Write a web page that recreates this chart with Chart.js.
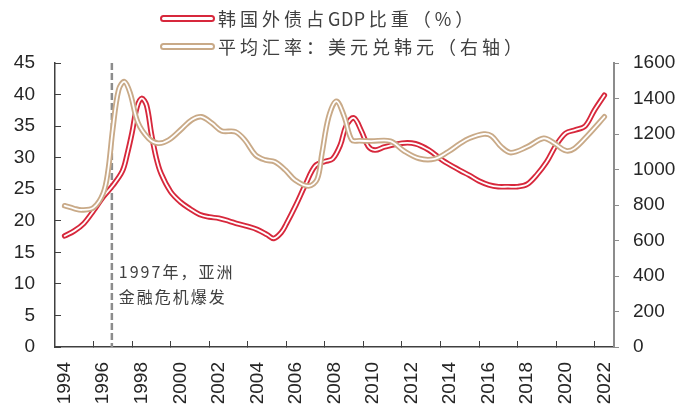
<!DOCTYPE html>
<html>
<head>
    <title>韩国外债占GDP比重与汇率</title>
    <style>
        body { margin: 0; background: #ffffff; font-family: "Liberation Sans", Arial, sans-serif; }
        .wrap { position: relative; width: 682px; height: 410px; }
        .legend { position: absolute; left: 160px; top: 4px; font-family: "Noto Sans CJK SC", sans-serif; font-size: 18px; letter-spacing: 4px; color: #404040; }
        .legend div { display: flex; align-items: center; height: 28px; }
        .legend .latin { letter-spacing: 0.5px; margin-right: 3px; }
        .swatch { width: 51px; height: 3px; border: 2px solid; border-radius: 4px; background: #fff; margin-right: 3px; }
    </style>
</head>
<body>
<div class="wrap">
    <canvas id="chart" width="682" height="410"></canvas>
    <div class="legend">
        <div><span class="swatch" style="border-color:#d7283c"></span>韩国外债占<span class="latin">GDP</span>比重（%）</div>
        <div><span class="swatch" style="border-color:#c9aa88"></span>平均汇率：美元兑韩元（右轴）</div>
    </div>
</div>
<script src="https://cdn.jsdelivr.net/npm/chart.js"></script>
<script>
    // values (x = year)
    var debtYears = [1994.0, 1994.5, 1995.0, 1995.5, 1996.0, 1996.5, 1997.0, 1997.25, 1997.5, 1997.75, 1998.0, 1998.25,
        1998.5, 1998.75, 1999.0, 1999.5, 2000.0, 2000.5, 2001.0, 2001.5, 2002.0, 2002.5, 2003.0, 2003.5, 2004.0,
        2004.5, 2004.85, 2005.25, 2005.5, 2006.0, 2006.5, 2007.0, 2007.5, 2007.9, 2008.3, 2008.6, 2009.0, 2009.4,
        2009.75, 2010.1, 2010.6, 2011.5, 2012.2, 2012.9, 2013.6, 2014.5, 2015.0, 2015.5, 2016.0, 2016.5, 2017.0,
        2017.5, 2018.0, 2018.5, 2019.0, 2019.5, 2020.0, 2020.5, 2021.0, 2021.5, 2022.0];
    var debtRatio = [17.6, 18.4, 19.6, 21.6, 23.8, 25.6, 27.9, 30.6, 34.0, 38.0, 39.4, 38.3,
        33.8, 30.0, 27.5, 24.6, 23.0, 21.9, 21.0, 20.6, 20.4, 20.0, 19.5, 19.1, 18.6,
        17.8, 17.2, 18.2, 19.5, 22.5, 25.8, 28.7, 29.4, 29.8, 32.0, 35.0, 36.3, 34.2,
        31.8, 31.2, 31.7, 32.3, 32.2, 31.2, 29.6, 28.0, 27.2, 26.3, 25.7, 25.4, 25.4,
        25.4, 25.8, 27.3, 29.3, 32.0, 33.9, 34.4, 35.0, 37.6, 39.9];

    var rateYears = [1994.0, 1994.5, 1994.9, 1995.5, 1996.0, 1996.25, 1996.5, 1996.8, 1997.1, 1997.4, 1997.8, 1998.35,
        1998.85, 1999.4, 2000.1, 2000.6, 2001.1, 2001.65, 2002.15, 2002.85, 2003.35, 2003.9, 2004.4, 2004.9,
        2005.45, 2005.95, 2006.65, 2007.1, 2007.35, 2007.7, 2008.1, 2008.5, 2008.9, 2009.3, 2009.9, 2010.9,
        2011.6, 2012.4, 2013.2, 2013.9, 2014.5, 2015.0, 2015.75, 2016.15, 2016.65, 2017.15, 2018.0, 2018.85,
        2019.4, 2020.0, 2020.45, 2021.15, 2022.0];
    var krwRate = [796, 780, 772, 785, 866, 990, 1230, 1448, 1495, 1430, 1265, 1176,
        1148, 1166, 1232, 1280, 1297, 1260, 1217, 1213, 1166, 1082, 1054, 1044,
        997, 941, 907, 945, 1091, 1297, 1385, 1300, 1166, 1162, 1160, 1160,
        1105, 1062, 1060, 1100, 1145, 1176, 1200, 1189, 1128, 1095, 1128, 1176,
        1148, 1106, 1119, 1194, 1297];

    var labelYears = [1994, 1996, 1998, 2000, 2002, 2004, 2006, 2008, 2010, 2012, 2014, 2016, 2018, 2020, 2022];
    var crisisYear = 1996.45;
    var crisisNote = ['1997年，亚洲', '金融危机爆发'];
    var noteLevels = [11.9, 7.9];

    var red = '#d7283c';
    var tan = '#c9aa88';

    function pts(xs, ys) {
        return xs.map((x, i) => ({ x: x, y: ys[i] }));
    }

    function line(data, color, width, axis, order) {
        return {
            data: data, yAxisID: axis, order: order,
            borderColor: color, borderWidth: width,
            pointRadius: 0, tension: 0.35,
            borderCapStyle: 'round', borderJoinStyle: 'round', fill: false
        };
    }

    var crisisLine = {
        id: 'crisisLine',
        beforeDatasetsDraw(chart) {
            let ctx = chart.ctx;
            let x = chart.scales.x.getPixelForValue(crisisYear);
            let area = chart.chartArea;
            ctx.save();
            ctx.strokeStyle = '#8c8c8c';
            ctx.lineWidth = 2.5;
            ctx.setLineDash([7, 3]);
            ctx.beginPath();
            ctx.moveTo(x, area.top);
            ctx.lineTo(x, area.bottom);
            ctx.stroke();
            ctx.setLineDash([]);
            ctx.fillStyle = '#404040';
            ctx.font = '16px "Noto Sans CJK SC"';
            ctx.letterSpacing = '2px';
            ctx.textBaseline = 'middle';
            crisisNote.forEach((t, i) => {
                ctx.fillText(t, x + 7, chart.scales.y.getPixelForValue(noteLevels[i]));
            });
            ctx.restore();
        }
    };

    var xTicks = [];
    labelYears.forEach(y => { xTicks.push(y); if (y < 2022) xTicks.push(y + 1.5); });

    new Chart(document.getElementById('chart'), {
        type: 'line',
        data: {
            datasets: [
                line(pts(rateYears, krwRate), '#ffffff', 1.8, 'y1', 0),
                line(pts(rateYears, krwRate), tan, 5.5, 'y1', 1),
                line(pts(debtYears, debtRatio), '#ffffff', 1.8, 'y', 2),
                line(pts(debtYears, debtRatio), red, 5.5, 'y', 3)
            ]
        },
        plugins: [crisisLine],
        options: {
            responsive: false,
            animation: false,
            layout: { padding: { top: 63, left: 0, right: 0, bottom: 0 } },
            plugins: { legend: { display: false }, tooltip: { enabled: false } },
            scales: {
                x: {
                    type: 'linear', min: 1993.5, max: 2022.5,
                    afterBuildTicks: s => { s.ticks = xTicks.map(v => ({ value: v })); },
                    afterFit: s => { s.height = 63; },
                    border: { color: '#404040', width: 1.5 },
                    grid: {
                        drawOnChartArea: false, tickLength: -6,
                        color: c => (c.tick && Number.isInteger(c.tick.value)) ? 'rgba(0,0,0,0)' : '#404040'
                    },
                    ticks: {
                        autoSkip: false, minRotation: 90, maxRotation: 90, padding: 21,
                        color: '#262626', font: { size: 19, family: '"Liberation Sans", Arial' },
                        callback: v => Number.isInteger(v) ? String(v) : ''
                    }
                },
                y: {
                    position: 'left', min: 0, max: 45,
                    afterFit: s => { s.width = 55; },
                    border: { color: '#404040', width: 1.5 },
                    grid: { drawOnChartArea: false, tickLength: -6, color: '#404040' },
                    ticks: {
                        stepSize: 5, padding: 26, color: '#262626',
                        font: { size: 19, family: '"Liberation Sans", Arial' }
                    }
                },
                y1: {
                    position: 'right', min: 0, max: 1600,
                    afterFit: s => { s.width = 68; },
                    border: { color: '#8c8c8c', width: 2 },
                    grid: { drawOnChartArea: false, tickLength: 5, color: '#8c8c8c' },
                    ticks: {
                        stepSize: 200, padding: 14, color: '#262626',
                        font: { size: 19, family: '"Liberation Sans", Arial' },
                        callback: v => String(v)
                    }
                }
            }
        }
    });
</script>
</body>
</html>
